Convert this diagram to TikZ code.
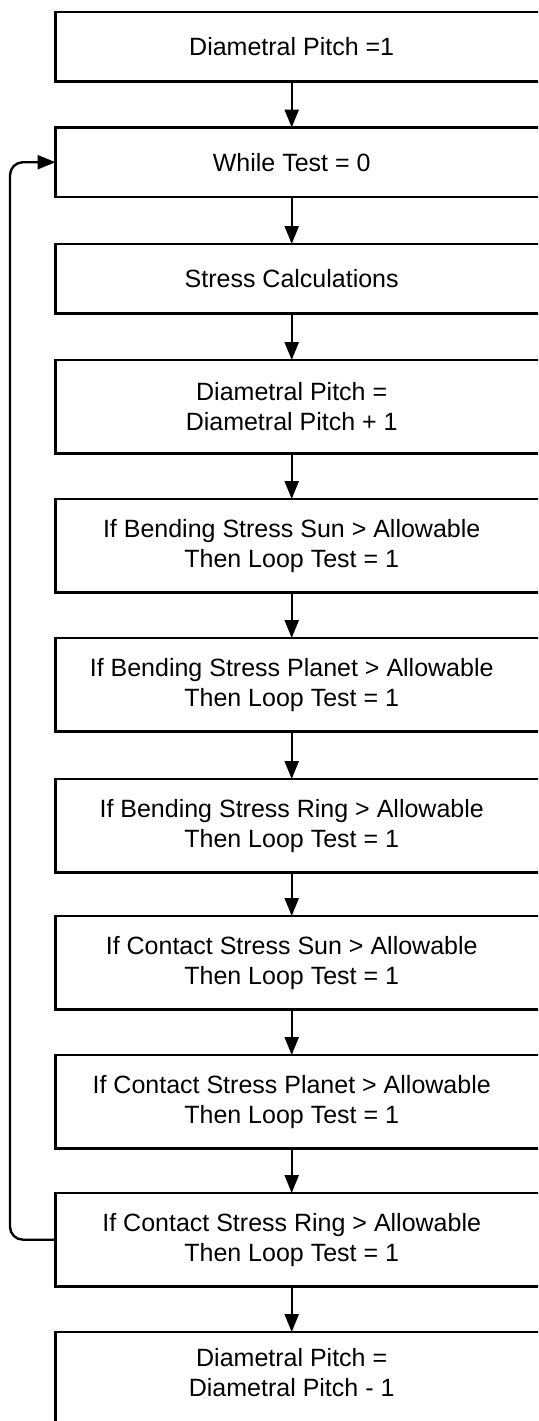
\documentclass[tikz,border=0pt]{standalone}
\usepackage{fontspec}
\setmainfont{Liberation Sans}
\usetikzlibrary{arrows.meta}

\tikzset{
  stepbox/.style={rectangle, draw=none, minimum width=472pt, inner sep=0pt,
    align=center, anchor=north west,
    font=\fontsize{25pt}{30pt}\selectfont},
  single/.style={stepbox, minimum height=69pt},
  double/.style={stepbox, minimum height=93pt},
  frame/.style={draw=black, line width=2.5pt, line join=miter},
  flow/.style={draw=black, line width=2.4pt,
    -{Triangle[length=18pt,width=14pt]}},
}

\begin{document}
\begin{tikzpicture}[x=1pt, y=-1pt]
  \useasboundingbox[fill=white] (0,0) rectangle (538,1421);
  \clip (0,0) rectangle (538,1421);

  % process steps (boxes run off past the right margin)
  \node[single] (b1)  at (55.5,12)    {Diametral Pitch =1};
  \node[single] (b2)  at (55.5,127.5) {While Test = 0};
  \node[single] (b3)  at (55.5,244)   {Stress Calculations};
  \node[double] (b4)  at (55.5,360)   {Diametral Pitch =\\Diametral Pitch + 1};
  \node[double] (b5)  at (55.5,499)   {If Bending Stress Sun > Allowable\\Then Loop Test = 1};
  \node[double] (b6)  at (55.5,638)   {If Bending Stress Planet > Allowable\\Then Loop Test = 1};
  \node[double] (b7)  at (55.5,779)   {If Bending Stress Ring > Allowable\\Then Loop Test = 1};
  \node[double] (b8)  at (55.5,916)   {If Contact Stress Sun > Allowable\\Then Loop Test = 1};
  \node[double] (b9)  at (55.5,1055)  {If Contact Stress Planet > Allowable\\Then Loop Test = 1};
  \node[double] (b10) at (55.5,1193)  {If Contact Stress Ring > Allowable\\Then Loop Test = 1};
  \node[stepbox, minimum height=80pt] (b11) at (55.5,1332) {Diametral Pitch =\\Diametral Pitch - 1};

  % box outlines: top, left and bottom sides
  \foreach \n in {b1,b2,b3,b4,b5,b6,b7,b8,b9,b10}
    \draw[frame] ([xshift=60pt]\n.north east) -| (\n.south west) -- ([xshift=60pt]\n.south east);
  \draw[frame] ([xshift=60pt]b11.north east) -| ([yshift=-40pt]b11.south west);

  % main flow
  \foreach \a/\b in {b1/b2,b2/b3,b3/b4,b4/b5,b5/b6,b6/b7,b7/b8,b8/b9,b9/b10,b10/b11}
    \draw[flow] (\a.south) -- (\b.north);

  % loop back to the while test
  \draw[flow, rounded corners=13pt] (b10.west) -- ++(-45.5,0) |- (b2.west);
\end{tikzpicture}
\end{document}
